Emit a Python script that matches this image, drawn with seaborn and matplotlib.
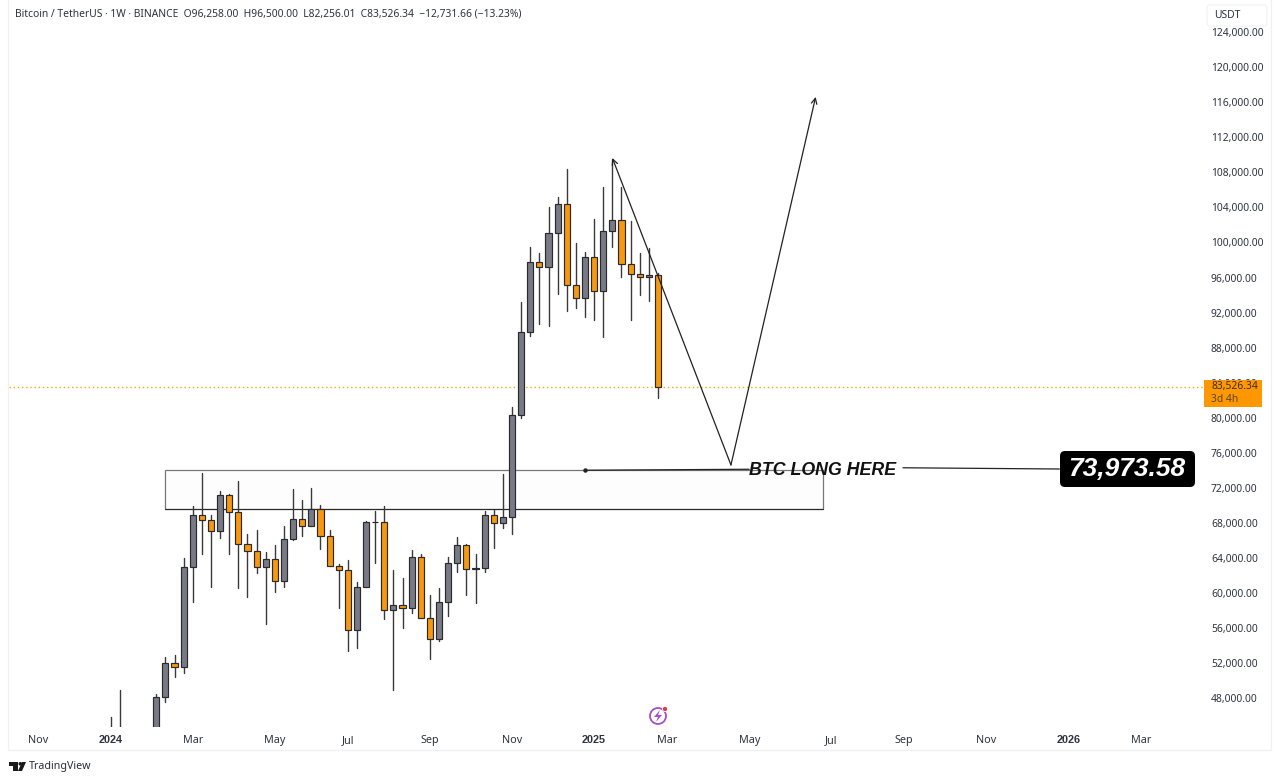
import pandas as pd
import numpy as np
import matplotlib
matplotlib.use("Agg")
import matplotlib.pyplot as plt
import matplotlib.dates as mdates
from matplotlib.patches import Rectangle, FancyBboxPatch, Circle, Polygon
import seaborn as sns

first_week = "2024-01-01"
# weekly candles, values (first five sit below the visible range)
opens = [42280, 43930, 41730, 41580, 42030, 42600, 48205, 52050, 51630, 63030,
         68890, 68320, 67135, 71170, 69300, 65580, 64850, 63030, 63940, 61400,
         66190, 68430, 67700, 69610, 66560, 63140, 62690, 55810, 60680, 68090,
         68090, 58090, 58630, 58350, 64100, 57210, 54820, 59040, 63490, 65540,
         62730, 62850, 68890, 67980, 68660, 80330, 89790, 97810, 97170, 101050,
         104390, 95120, 93670, 98310, 94470, 101270, 102560, 97580, 96400, 96030,
         96258]
highs = [45860, 48970, 43500, 42800, 43880, 48470, 52770, 52960, 63985, 69950,
         73680, 68925, 71700, 71300, 72770, 66790, 67180, 64670, 65470, 67640,
         71890, 70600, 71970, 70100, 67250, 63340, 63760, 61320, 68200, 69340,
         69990, 62650, 61770, 64970, 64440, 59770, 60570, 64100, 66450, 65600,
         64440, 69350, 69460, 73570, 81270, 93210, 99520, 98830, 104010, 105220,
         108340, 99910, 98880, 102680, 106360, 109550, 106360, 102450, 98800, 99330,
         96500]
lows = [40750, 41500, 40280, 38500, 41800, 42300, 47635, 50490, 50870, 58970,
        64480, 60750, 66335, 64440, 60630, 59540, 62310, 56500, 60140, 60710,
        66080, 66560, 67670, 65010, 63100, 58350, 53450, 53770, 60660, 63450,
        57100, 48930, 56040, 57720, 57200, 52500, 54520, 57440, 62460, 59770,
        58860, 62390, 65200, 67440, 66790, 80000, 89370, 90740, 90480, 94130,
        92220, 92530, 91500, 91160, 89190, 99520, 96100, 91160, 94050, 93330,
        82256.01]
closes = [43930, 41730, 41580, 42030, 42600, 48205, 52050, 51630, 63030, 68890,
          68355, 67135, 71170, 69300, 65580, 64850, 63030, 63940, 61400, 66190,
          68430, 67700, 69610, 66560, 63140, 62690, 55810, 60680, 68090, 68100,
          58090, 58630, 58350, 64100, 57210, 54820, 59040, 63490, 65540, 62730,
          62850, 68890, 67980, 68660, 80330, 89760, 97810, 97170, 101050, 104390,
          95120, 93670, 98310, 94470, 101270, 102560, 97580, 96400, 96030, 96258,
          83526.34]

month_dates = ["2023-11-06", "2024-01-01", "2024-03-04", "2024-05-06", "2024-07-01",
               "2024-09-02", "2024-11-04", "2025-01-06", "2025-03-03", "2025-05-05",
               "2025-07-07", "2025-09-01", "2025-11-03", "2026-01-05", "2026-03-02"]
month_labels = ["Nov", "2024", "Mar", "May", "Jul", "Sep", "Nov", "2025", "Mar", "May",
                "Jul", "Sep", "Nov", "2026", "Mar"]
price_ticks = list(range(48000, 128000, 4000))
last_price = 83526.34

# drawings on the chart
zone_dates = ["2024-02-12", "2025-07-01"]
zone_prices = [69610, 74060]
path_dates = ["2025-01-20", "2025-04-21", "2025-06-25"]
path_prices = [109630, 74630, 116600]
long_dates = ["2024-12-30", "2025-05-05", "2025-08-31", "2025-12-29"]
long_prices = [74030, 74140, 74310, 74170]

header = "Bitcoin / TetherUS · 1W · BINANCE  O96,258.00  H96,500.00  L82,256.01  C83,526.34  −12,731.66 (−13.23%)"

GRAY = "#787b86"
ORANGE = "#f7980f"
EDGE = "#2a2a2a"
TEXT = "#2f3340"

sns.set_theme(style="white", rc={"axes.edgecolor": "white"})
plt.rcParams["font.family"] = ["Noto Sans", "DejaVu Sans"]

fig = plt.figure(figsize=(12.8, 7.82), dpi=100, facecolor="white")
ax = fig.add_axes([9 / 1280, 1 - 726.5 / 782, 1195 / 1280, 721.5 / 782])

dates = pd.date_range(first_week, periods=len(opens), freq="7D")
candles = pd.DataFrame({"date": dates, "open": opens, "high": highs, "low": lows, "close": closes})
candles["week"] = range(len(candles))
wicks = candles.melt(id_vars=["date", "week"], value_vars=["high", "low"], value_name="price")

sns.lineplot(data=wicks, x="date", y="price", units="week", estimator=None, sort=False,
             color="#3a3a3a", linewidth=1.0, legend=False, ax=ax, zorder=2)

colors = [GRAY if c >= o else ORANGE for o, c in zip(opens, closes)]
ax.bar(candles["date"], candles["close"] - candles["open"], bottom=candles["open"], width=4.7,
       color=colors, edgecolor=EDGE, linewidth=0.85, zorder=3)

# support zone
zone_x = mdates.date2num(pd.to_datetime(zone_dates))
ax.add_patch(Rectangle((zone_x[0], zone_prices[0]), zone_x[1] - zone_x[0], zone_prices[1] - zone_prices[0],
                       facecolor="#fdfdfd", edgecolor="#777777", linewidth=0.9, zorder=1))
ax.plot(zone_x, [zone_prices[0]] * 2, color="#2a2a2a", lw=0.8, zorder=1.5)

# projected path
path_x = mdates.date2num(pd.to_datetime(path_dates))
for i in [0, 2]:
    ax.annotate("", xy=(path_x[i], path_prices[i]), xytext=(path_x[1], path_prices[1]), zorder=4,
                arrowprops=dict(arrowstyle="->", color="#222222", lw=0.9, mutation_scale=10, shrinkA=0, shrinkB=0))

# long level line, broken by the label
long_x = pd.to_datetime(long_dates)
ax.plot(long_x[:2], long_prices[:2], color="#222222", lw=0.9, zorder=4)
ax.plot(long_x[2:], long_prices[2:], color="#222222", lw=0.9, zorder=4)
ax.plot(long_x[:1], long_prices[:1], "o", color="#222222", ms=2.2, zorder=4)
ax.text(pd.Timestamp("2025-06-30"), 74050, "BTC LONG HERE", family="Liberation Sans", weight="bold", style="italic",
        fontsize=12.8, color="#111111", ha="center", va="center", zorder=5)

ax.axhline(last_price, color="#f2a900", lw=1.0, ls=(0, (1, 2)), zorder=1)

ax.set_xlim(pd.Timestamp("2023-10-15"), pd.Timestamp("2026-04-19"))
ax.set_ylim(44807, 127080)
ax.set_xlabel("")
ax.set_ylabel("")
ax.set_xticks(pd.to_datetime(month_dates))
ax.set_xticklabels(month_labels)
ax.yaxis.tick_right()
ax.set_yticks(price_ticks)
ax.set_yticklabels([f"{p:,.2f}" for p in price_ticks])
ax.tick_params(axis="x", length=0, pad=11.9, labelsize=7.8, labelcolor=TEXT)
ax.tick_params(axis="y", length=0, pad=5, labelsize=7.4, labelcolor=TEXT)
for label in ax.get_xticklabels():
    label.set_va("baseline")
    if label.get_text().startswith("20"):
        label.set_family("Liberation Sans")
        label.set_fontweight("bold")
sns.despine(ax=ax, left=True, bottom=True, right=True, top=True)

# chrome in pixel coordinates
over = fig.add_axes([0, 0, 1, 1], facecolor="none")
over.set_xlim(0, 1280)
over.set_ylim(782, 0)
over.set_axis_off()

over.add_patch(Rectangle((8, -2), 1263, 752, fill=False, edgecolor="#f0f0f0", lw=1))
over.text(15, 14, header, fontsize=7.4, color=TEXT, va="center", ha="left")

over.add_patch(FancyBboxPatch((1207, 5), 60, 21, boxstyle="round,pad=0,rounding_size=3",
                              facecolor="white", edgecolor="#f2f2f2", lw=0.8))
over.text(1214, 15.5, "USDT", fontsize=7.4, color=TEXT, va="center")

over.add_patch(Rectangle((1204, 380), 58, 27, facecolor="#ff9800", edgecolor="none"))
over.text(1211, 386.5, "83,526.34", fontsize=7.4, color="#3a3020", va="center")
over.text(1211, 399, "3d 4h", fontsize=7.4, color="#5a4520", va="center")

over.add_patch(FancyBboxPatch((1060, 451), 135, 36, boxstyle="round,pad=0,rounding_size=5",
                              facecolor="black", edgecolor="none"))
over.text(1127, 469.5, "73,973.58", family="Liberation Sans", weight="bold", style="italic",
          fontsize=19, color="white", ha="center", va="center")

# lightning badge
over.add_patch(Circle((658, 716), 8, fill=False, edgecolor="#a24fd0", lw=1.3))
over.add_patch(Polygon([(660, 710), (654, 717), (658, 717), (656, 722), (662, 715), (658, 715)],
                       facecolor="#a24fd0", edgecolor="none"))
over.add_patch(Circle((665, 709), 2.6, facecolor="#e8383d", edgecolor="white", lw=0.6))

# TradingView logo
over.add_patch(Polygon([(9, 762), (18, 762), (18, 771), (13, 771), (13, 766), (9, 766)],
                       facecolor="#1a1a1a", edgecolor="none"))
over.add_patch(Circle((20.3, 763.8), 1.8, facecolor="#1a1a1a", edgecolor="none"))
over.add_patch(Polygon([(22, 762), (26, 762), (22, 771), (18, 771)], facecolor="#1a1a1a", edgecolor="none"))
over.text(29, 767, "TradingView", fontsize=7.7, color="#2a2e39", va="center")

fig.savefig("out.png", dpi=100)
